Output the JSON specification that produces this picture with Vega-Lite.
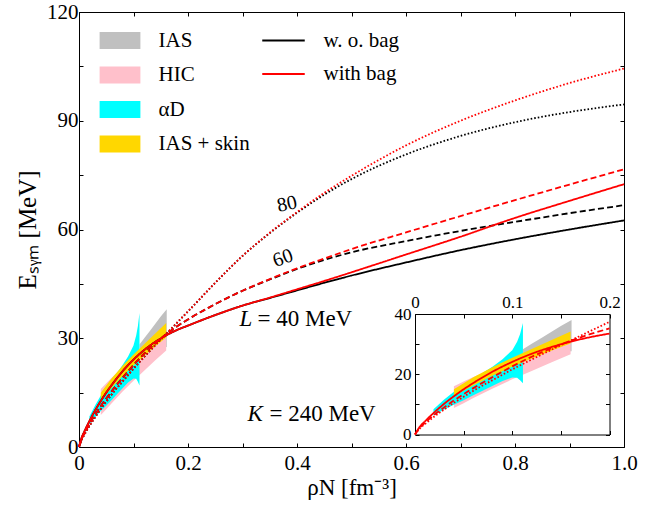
{
  "$schema": "https://vega.github.io/schema/vega-lite/v6.json",
  "width": 545,
  "height": 435,
  "autosize": {"type": "none"},
  "padding": {"left": 79, "top": 12, "right": 30, "bottom": 63},
  "background": "white",
  "config": {
    "view": {"stroke": null},
    "axis": {
      "labelFont": "Liberation Serif", "titleFont": "Liberation Serif",
      "labelColor": "black", "titleColor": "black", "domainColor": "black", "tickColor": "black",
      "domainWidth": 1, "tickWidth": 1, "grid": false, "labelFlush": false, "labelOverlap": false,
      "titleFontWeight": "normal"
    },
    "legend": {"labelFont": "Liberation Serif", "labelColor": "black"}
  },
  "datasets": {
    "lines": [
      {"rho":0,"E":0,"L":"40","bag":"with bag"},{"rho":0.005,"E":2.6,"L":"40","bag":"with bag"},{"rho":0.01,"E":4.3,"L":"40","bag":"with bag"},{"rho":0.02,"E":7.4,"L":"40","bag":"with bag"},{"rho":0.03,"E":10.2,"L":"40","bag":"with bag"},{"rho":0.04,"E":12.7,"L":"40","bag":"with bag"},{"rho":0.05,"E":15.0,"L":"40","bag":"with bag"},{"rho":0.06,"E":17.1,"L":"40","bag":"with bag"},{"rho":0.08,"E":20.9,"L":"40","bag":"with bag"},{"rho":0.1,"E":24.1,"L":"40","bag":"with bag"},{"rho":0.12,"E":26.8,"L":"40","bag":"with bag"},{"rho":0.14,"E":29.0,"L":"40","bag":"with bag"},{"rho":0.16,"E":30.8,"L":"40","bag":"with bag"},{"rho":0.18,"E":32.3,"L":"40","bag":"with bag"},{"rho":0.2,"E":33.5,"L":"40","bag":"with bag"},{"rho":0.25,"E":36.4,"L":"40","bag":"with bag"},{"rho":0.3,"E":39.0,"L":"40","bag":"with bag"},{"rho":0.35,"E":41.2,"L":"40","bag":"with bag"},{"rho":0.4,"E":43.5,"L":"40","bag":"with bag"},{"rho":0.45,"E":45.8,"L":"40","bag":"with bag"},{"rho":0.5,"E":48.2,"L":"40","bag":"with bag"},{"rho":0.6,"E":53.1,"L":"40","bag":"with bag"},{"rho":0.7,"E":58.0,"L":"40","bag":"with bag"},{"rho":0.8,"E":63.2,"L":"40","bag":"with bag"},{"rho":0.9,"E":67.9,"L":"40","bag":"with bag"},{"rho":1.0,"E":72.5,"L":"40","bag":"with bag"},
      {"rho":0,"E":0,"L":"40","bag":"w. o. bag"},{"rho":0.005,"E":2.6,"L":"40","bag":"w. o. bag"},{"rho":0.01,"E":4.3,"L":"40","bag":"w. o. bag"},{"rho":0.02,"E":7.4,"L":"40","bag":"w. o. bag"},{"rho":0.03,"E":10.2,"L":"40","bag":"w. o. bag"},{"rho":0.04,"E":12.7,"L":"40","bag":"w. o. bag"},{"rho":0.05,"E":15.0,"L":"40","bag":"w. o. bag"},{"rho":0.06,"E":17.1,"L":"40","bag":"w. o. bag"},{"rho":0.08,"E":20.9,"L":"40","bag":"w. o. bag"},{"rho":0.1,"E":24.1,"L":"40","bag":"w. o. bag"},{"rho":0.12,"E":26.8,"L":"40","bag":"w. o. bag"},{"rho":0.14,"E":29.0,"L":"40","bag":"w. o. bag"},{"rho":0.16,"E":30.8,"L":"40","bag":"w. o. bag"},{"rho":0.18,"E":32.3,"L":"40","bag":"w. o. bag"},{"rho":0.2,"E":33.5,"L":"40","bag":"w. o. bag"},{"rho":0.25,"E":36.4,"L":"40","bag":"w. o. bag"},{"rho":0.3,"E":39.0,"L":"40","bag":"w. o. bag"},{"rho":0.35,"E":41.1,"L":"40","bag":"w. o. bag"},{"rho":0.4,"E":43.2,"L":"40","bag":"w. o. bag"},{"rho":0.45,"E":45.3,"L":"40","bag":"w. o. bag"},{"rho":0.5,"E":47.3,"L":"40","bag":"w. o. bag"},{"rho":0.6,"E":50.9,"L":"40","bag":"w. o. bag"},{"rho":0.7,"E":54.3,"L":"40","bag":"w. o. bag"},{"rho":0.8,"E":57.3,"L":"40","bag":"w. o. bag"},{"rho":0.9,"E":60.0,"L":"40","bag":"w. o. bag"},{"rho":1.0,"E":62.5,"L":"40","bag":"w. o. bag"},
      {"rho":0,"E":0,"L":"60","bag":"with bag"},{"rho":0.005,"E":2.3,"L":"60","bag":"with bag"},{"rho":0.01,"E":3.8,"L":"60","bag":"with bag"},{"rho":0.02,"E":6.6,"L":"60","bag":"with bag"},{"rho":0.03,"E":9.0,"L":"60","bag":"with bag"},{"rho":0.04,"E":11.3,"L":"60","bag":"with bag"},{"rho":0.05,"E":13.4,"L":"60","bag":"with bag"},{"rho":0.06,"E":15.4,"L":"60","bag":"with bag"},{"rho":0.08,"E":19.1,"L":"60","bag":"with bag"},{"rho":0.1,"E":22.6,"L":"60","bag":"with bag"},{"rho":0.12,"E":25.8,"L":"60","bag":"with bag"},{"rho":0.14,"E":28.6,"L":"60","bag":"with bag"},{"rho":0.16,"E":31.1,"L":"60","bag":"with bag"},{"rho":0.18,"E":33.3,"L":"60","bag":"with bag"},{"rho":0.2,"E":35.2,"L":"60","bag":"with bag"},{"rho":0.25,"E":39.4,"L":"60","bag":"with bag"},{"rho":0.3,"E":43.1,"L":"60","bag":"with bag"},{"rho":0.35,"E":46.3,"L":"60","bag":"with bag"},{"rho":0.4,"E":49.3,"L":"60","bag":"with bag"},{"rho":0.45,"E":52.0,"L":"60","bag":"with bag"},{"rho":0.5,"E":54.6,"L":"60","bag":"with bag"},{"rho":0.6,"E":59.2,"L":"60","bag":"with bag"},{"rho":0.7,"E":63.7,"L":"60","bag":"with bag"},{"rho":0.8,"E":68.1,"L":"60","bag":"with bag"},{"rho":0.9,"E":72.4,"L":"60","bag":"with bag"},{"rho":1.0,"E":76.6,"L":"60","bag":"with bag"},
      {"rho":0,"E":0,"L":"60","bag":"w. o. bag"},{"rho":0.005,"E":2.3,"L":"60","bag":"w. o. bag"},{"rho":0.01,"E":3.8,"L":"60","bag":"w. o. bag"},{"rho":0.02,"E":6.6,"L":"60","bag":"w. o. bag"},{"rho":0.03,"E":9.0,"L":"60","bag":"w. o. bag"},{"rho":0.04,"E":11.3,"L":"60","bag":"w. o. bag"},{"rho":0.05,"E":13.4,"L":"60","bag":"w. o. bag"},{"rho":0.06,"E":15.4,"L":"60","bag":"w. o. bag"},{"rho":0.08,"E":19.1,"L":"60","bag":"w. o. bag"},{"rho":0.1,"E":22.6,"L":"60","bag":"w. o. bag"},{"rho":0.12,"E":25.8,"L":"60","bag":"w. o. bag"},{"rho":0.14,"E":28.6,"L":"60","bag":"w. o. bag"},{"rho":0.16,"E":31.1,"L":"60","bag":"w. o. bag"},{"rho":0.18,"E":33.3,"L":"60","bag":"w. o. bag"},{"rho":0.2,"E":35.2,"L":"60","bag":"w. o. bag"},{"rho":0.25,"E":39.4,"L":"60","bag":"w. o. bag"},{"rho":0.3,"E":43.1,"L":"60","bag":"w. o. bag"},{"rho":0.35,"E":46.2,"L":"60","bag":"w. o. bag"},{"rho":0.4,"E":49.1,"L":"60","bag":"w. o. bag"},{"rho":0.45,"E":51.6,"L":"60","bag":"w. o. bag"},{"rho":0.5,"E":53.7,"L":"60","bag":"w. o. bag"},{"rho":0.6,"E":56.8,"L":"60","bag":"w. o. bag"},{"rho":0.7,"E":59.6,"L":"60","bag":"w. o. bag"},{"rho":0.8,"E":62.1,"L":"60","bag":"w. o. bag"},{"rho":0.9,"E":64.5,"L":"60","bag":"w. o. bag"},{"rho":1.0,"E":66.7,"L":"60","bag":"w. o. bag"},
      {"rho":0,"E":0,"L":"80","bag":"with bag"},{"rho":0.005,"E":2.0,"L":"80","bag":"with bag"},{"rho":0.01,"E":3.4,"L":"80","bag":"with bag"},{"rho":0.02,"E":6.0,"L":"80","bag":"with bag"},{"rho":0.03,"E":8.3,"L":"80","bag":"with bag"},{"rho":0.04,"E":10.5,"L":"80","bag":"with bag"},{"rho":0.05,"E":12.5,"L":"80","bag":"with bag"},{"rho":0.06,"E":14.5,"L":"80","bag":"with bag"},{"rho":0.08,"E":18.1,"L":"80","bag":"with bag"},{"rho":0.1,"E":21.6,"L":"80","bag":"with bag"},{"rho":0.12,"E":24.9,"L":"80","bag":"with bag"},{"rho":0.14,"E":28.1,"L":"80","bag":"with bag"},{"rho":0.16,"E":31.2,"L":"80","bag":"with bag"},{"rho":0.18,"E":34.3,"L":"80","bag":"with bag"},{"rho":0.2,"E":37.4,"L":"80","bag":"with bag"},{"rho":0.25,"E":45.3,"L":"80","bag":"with bag"},{"rho":0.3,"E":52.7,"L":"80","bag":"with bag"},{"rho":0.35,"E":59.1,"L":"80","bag":"with bag"},{"rho":0.4,"E":64.8,"L":"80","bag":"with bag"},{"rho":0.45,"E":70.1,"L":"80","bag":"with bag"},{"rho":0.5,"E":74.8,"L":"80","bag":"with bag"},{"rho":0.6,"E":83.2,"L":"80","bag":"with bag"},{"rho":0.7,"E":90.0,"L":"80","bag":"with bag"},{"rho":0.8,"E":95.6,"L":"80","bag":"with bag"},{"rho":0.9,"E":100.4,"L":"80","bag":"with bag"},{"rho":1.0,"E":104.4,"L":"80","bag":"with bag"},
      {"rho":0,"E":0,"L":"80","bag":"w. o. bag"},{"rho":0.005,"E":2.0,"L":"80","bag":"w. o. bag"},{"rho":0.01,"E":3.4,"L":"80","bag":"w. o. bag"},{"rho":0.02,"E":6.0,"L":"80","bag":"w. o. bag"},{"rho":0.03,"E":8.3,"L":"80","bag":"w. o. bag"},{"rho":0.04,"E":10.5,"L":"80","bag":"w. o. bag"},{"rho":0.05,"E":12.5,"L":"80","bag":"w. o. bag"},{"rho":0.06,"E":14.5,"L":"80","bag":"w. o. bag"},{"rho":0.08,"E":18.1,"L":"80","bag":"w. o. bag"},{"rho":0.1,"E":21.6,"L":"80","bag":"w. o. bag"},{"rho":0.12,"E":24.9,"L":"80","bag":"w. o. bag"},{"rho":0.14,"E":28.1,"L":"80","bag":"w. o. bag"},{"rho":0.16,"E":31.2,"L":"80","bag":"w. o. bag"},{"rho":0.18,"E":34.3,"L":"80","bag":"w. o. bag"},{"rho":0.2,"E":37.4,"L":"80","bag":"w. o. bag"},{"rho":0.25,"E":45.3,"L":"80","bag":"w. o. bag"},{"rho":0.3,"E":52.7,"L":"80","bag":"w. o. bag"},{"rho":0.35,"E":59.0,"L":"80","bag":"w. o. bag"},{"rho":0.4,"E":64.6,"L":"80","bag":"w. o. bag"},{"rho":0.45,"E":69.6,"L":"80","bag":"w. o. bag"},{"rho":0.5,"E":73.9,"L":"80","bag":"w. o. bag"},{"rho":0.6,"E":80.7,"L":"80","bag":"w. o. bag"},{"rho":0.7,"E":85.8,"L":"80","bag":"w. o. bag"},{"rho":0.8,"E":89.6,"L":"80","bag":"w. o. bag"},{"rho":0.9,"E":92.4,"L":"80","bag":"w. o. bag"},{"rho":1.0,"E":94.5,"L":"80","bag":"w. o. bag"}
    ],
    "bands": [
      {"band":"IAS","rho":0.111,"lo":26.3,"hi":28.3},{"band":"IAS","rho":0.12,"lo":26.6,"hi":30.1},{"band":"IAS","rho":0.13,"lo":26.9,"hi":32.0},{"band":"IAS","rho":0.14,"lo":27.2,"hi":34.0},{"band":"IAS","rho":0.15,"lo":27.4,"hi":36.0},{"band":"IAS","rho":0.161,"lo":27.6,"hi":38.0},
      {"band":"HIC","rho":0.04,"lo":8.8,"hi":16.0},{"band":"HIC","rho":0.05,"lo":10.4,"hi":17.6},{"band":"HIC","rho":0.06,"lo":12.1,"hi":19.1},{"band":"HIC","rho":0.08,"lo":15.3,"hi":21.7},{"band":"HIC","rho":0.1,"lo":18.3,"hi":24.1},{"band":"HIC","rho":0.12,"lo":21.1,"hi":26.6},{"band":"HIC","rho":0.14,"lo":23.9,"hi":29.0},{"band":"HIC","rho":0.16,"lo":26.6,"hi":31.3},
      {"band":"αD","rho":0.019,"lo":6.3,"hi":8.4},{"band":"αD","rho":0.03,"lo":8.3,"hi":11.6},{"band":"αD","rho":0.04,"lo":9.9,"hi":14.2},{"band":"αD","rho":0.05,"lo":11.4,"hi":16.4},{"band":"αD","rho":0.06,"lo":13.0,"hi":18.5},{"band":"αD","rho":0.07,"lo":14.6,"hi":20.5},{"band":"αD","rho":0.08,"lo":16.2,"hi":22.6},{"band":"αD","rho":0.09,"lo":17.8,"hi":25.0},{"band":"αD","rho":0.1,"lo":18.9,"hi":28.0},{"band":"αD","rho":0.105,"lo":18.8,"hi":30.8},{"band":"αD","rho":0.108,"lo":18.0,"hi":33.3},{"band":"αD","rho":0.111,"lo":17.0,"hi":37.0},
      {"band":"IAS + skin","rho":0.04,"lo":12.8,"hi":15.0},{"band":"IAS + skin","rho":0.06,"lo":16.3,"hi":19.0},{"band":"IAS + skin","rho":0.08,"lo":19.6,"hi":22.4},{"band":"IAS + skin","rho":0.1,"lo":22.5,"hi":25.5},{"band":"IAS + skin","rho":0.12,"lo":25.2,"hi":28.4},{"band":"IAS + skin","rho":0.14,"lo":27.8,"hi":31.3},{"band":"IAS + skin","rho":0.16,"lo":30.2,"hi":34.2}
    ],
    "notes": [
      {"rho":0.3817,"E":67.0,"text":"80","kind":"s80"},
      {"rho":0.374,"E":52.1,"text":"60","kind":"s60"},
      {"rho":0.2945,"E":35.2,"text":"L","kind":"it"},
      {"rho":0.3275,"E":35.2,"text":"= 40 MeV","kind":"rm"},
      {"rho":0.309,"E":9.0,"text":"K","kind":"it"},
      {"rho":0.3495,"E":9.0,"text":"= 240 MeV","kind":"rm"}
    ]
  },
  "resolve": {"scale": {"x": "independent", "y": "independent"}, "axis": {"x": "independent", "y": "independent"}},
  "layer": [
    {
      "layer": [
        {
          "data": {"name": "bands"},
          "transform": [{"filter": "datum.band == 'IAS'"}],
          "mark": {"type": "area"},
          "encoding": {
            "x": {"field": "rho", "type": "quantitative", "scale": {"domain": [0, 1], "nice": false, "zero": false},
              "axis": {"orient": "bottom", "values": [0,0.1,0.2,0.3,0.4,0.5,0.6,0.7,0.8,0.9,1.0], "tickSize": -4, "labelPadding": 9,
                "labelExpr": "round(datum.value*10) % 2 == 0 ? (datum.value == 0 ? '0' : format(datum.value, '.1f')) : ''",
                "labelFontSize": 21, "title": "ρN [fm⁻³]", "titleFontSize": 23, "titlePadding": 3}},
            "y": {"field": "hi", "type": "quantitative", "scale": {"domain": [0, 120], "nice": false, "zero": false},
              "axis": {"orient": "left", "values": [0,15,30,45,60,75,90,105,120], "tickSize": -4, "labelPadding": 5,
                "labelExpr": "datum.value % 30 == 0 ? datum.label : ''",
                "labelFontSize": 21, "title": "Eₛᵧₘ [MeV]", "titleFontSize": 25, "titlePadding": 6}},
            "y2": {"field": "lo"},
            "fill": {"field": "band", "type": "nominal",
              "scale": {"domain": ["IAS", "HIC", "αD", "IAS + skin"], "range": ["#c0c0c0", "#ffc0cb", "#00ffff", "#ffd700"]},
              "legend": {"orient": "none", "legendX": 30.5, "legendY": 18, "title": null, "padding": 0,
                "symbolType": "M-2.4,-1L2.4,-1L2.4,1L-2.4,1Z", "symbolSize": 289, "symbolStrokeWidth": 0, "symbolOpacity": 1,
                "labelFontSize": 21, "labelOffset": 28, "rowPadding": 12.5}}
          }
        },
        {
          "data": {"name": "bands"},
          "transform": [{"filter": "datum.band == 'HIC'"}],
          "mark": {"type": "area"},
          "encoding": {
            "x": {"field": "rho", "type": "quantitative", "scale": {"domain": [0, 1], "nice": false, "zero": false}},
            "y": {"field": "hi", "type": "quantitative", "scale": {"domain": [0, 120], "nice": false, "zero": false}},
            "y2": {"field": "lo"},
            "fill": {"field": "band", "type": "nominal"}
          }
        },
        {
          "data": {"name": "bands"},
          "transform": [{"filter": "datum.band == 'αD'"}],
          "mark": {"type": "area"},
          "encoding": {
            "x": {"field": "rho", "type": "quantitative", "scale": {"domain": [0, 1], "nice": false, "zero": false}},
            "y": {"field": "hi", "type": "quantitative", "scale": {"domain": [0, 120], "nice": false, "zero": false}},
            "y2": {"field": "lo"},
            "fill": {"field": "band", "type": "nominal"}
          }
        },
        {
          "data": {"name": "bands"},
          "transform": [{"filter": "datum.band == 'IAS + skin'"}],
          "mark": {"type": "area"},
          "encoding": {
            "x": {"field": "rho", "type": "quantitative", "scale": {"domain": [0, 1], "nice": false, "zero": false}},
            "y": {"field": "hi", "type": "quantitative", "scale": {"domain": [0, 120], "nice": false, "zero": false}},
            "y2": {"field": "lo"},
            "fill": {"field": "band", "type": "nominal"}
          }
        },
        {
          "data": {"name": "lines"},
          "transform": [{"filter": "datum.bag == 'w. o. bag'"}],
          "mark": {"type": "line", "strokeWidth": 1.8, "interpolate": "monotone"},
          "encoding": {
            "x": {"field": "rho", "type": "quantitative", "scale": {"domain": [0, 1], "nice": false, "zero": false}},
            "y": {"field": "E", "type": "quantitative", "scale": {"domain": [0, 120], "nice": false, "zero": false}},
            "stroke": {"field": "bag", "type": "nominal",
              "scale": {"domain": ["w. o. bag", "with bag"], "range": ["black", "#ff0000"]},
              "legend": {"orient": "none", "legendX": 194, "legendY": 18, "title": null, "padding": 0,
                "symbolType": "M-2.5,0L2.5,0", "symbolSize": 289, "symbolStrokeWidth": 1.8,
                "labelFontSize": 21, "labelOffset": 29.5, "rowPadding": 11.5}},
            "strokeDash": {"field": "L", "type": "nominal",
              "scale": {"domain": ["40", "60", "80"], "range": [[1, 0], [6, 3.2], [1.6, 2]]}, "legend": null},
            "detail": {"field": "L"}
          }
        },
        {
          "data": {"name": "lines"},
          "transform": [{"filter": "datum.bag == 'with bag'"}],
          "mark": {"type": "line", "strokeWidth": 1.8, "interpolate": "monotone"},
          "encoding": {
            "x": {"field": "rho", "type": "quantitative", "scale": {"domain": [0, 1], "nice": false, "zero": false}},
            "y": {"field": "E", "type": "quantitative", "scale": {"domain": [0, 120], "nice": false, "zero": false}},
            "stroke": {"field": "bag", "type": "nominal"},
            "strokeDash": {"field": "L", "type": "nominal", "legend": null},
            "detail": {"field": "L"}
          }
        },
        {
          "data": {"name": "notes"},
          "transform": [{"filter": "datum.kind == 's80'"}],
          "mark": {"type": "text", "font": "Liberation Serif", "fontSize": 20, "angle": -12, "align": "center", "baseline": "middle", "color": "black"},
          "encoding": {
            "x": {"field": "rho", "type": "quantitative", "scale": {"domain": [0, 1], "nice": false, "zero": false}},
            "y": {"field": "E", "type": "quantitative", "scale": {"domain": [0, 120], "nice": false, "zero": false}},
            "text": {"field": "text"}
          }
        },
        {
          "data": {"name": "notes"},
          "transform": [{"filter": "datum.kind == 's60'"}],
          "mark": {"type": "text", "font": "Liberation Serif", "fontSize": 20, "angle": -20, "align": "center", "baseline": "middle", "color": "black"},
          "encoding": {
            "x": {"field": "rho", "type": "quantitative", "scale": {"domain": [0, 1], "nice": false, "zero": false}},
            "y": {"field": "E", "type": "quantitative", "scale": {"domain": [0, 120], "nice": false, "zero": false}},
            "text": {"field": "text"}
          }
        },
        {
          "data": {"name": "notes"},
          "transform": [{"filter": "datum.kind == 'it'"}],
          "mark": {"type": "text", "font": "Liberation Serif", "fontSize": 23, "fontStyle": "italic", "align": "left", "baseline": "middle", "color": "black"},
          "encoding": {
            "x": {"field": "rho", "type": "quantitative", "scale": {"domain": [0, 1], "nice": false, "zero": false}},
            "y": {"field": "E", "type": "quantitative", "scale": {"domain": [0, 120], "nice": false, "zero": false}},
            "text": {"field": "text"}
          }
        },
        {
          "data": {"name": "notes"},
          "transform": [{"filter": "datum.kind == 'rm'"}],
          "mark": {"type": "text", "font": "Liberation Serif", "fontSize": 23, "align": "left", "baseline": "middle", "color": "black"},
          "encoding": {
            "x": {"field": "rho", "type": "quantitative", "scale": {"domain": [0, 1], "nice": false, "zero": false}},
            "y": {"field": "E", "type": "quantitative", "scale": {"domain": [0, 120], "nice": false, "zero": false}},
            "text": {"field": "text"}
          }
        }
      ]
    },
    {
      "data": {"name": "notes"},
      "mark": {"type": "point", "opacity": 0},
      "encoding": {
        "x": {"field": "rho", "type": "quantitative", "scale": {"domain": [0, 1], "nice": false, "zero": false},
          "axis": {"orient": "top", "values": [0,0.1,0.2,0.3,0.4,0.5,0.6,0.7,0.8,0.9,1.0], "tickSize": -4, "labels": false, "title": null}},
        "y": {"field": "E", "type": "quantitative", "scale": {"domain": [0, 120], "nice": false, "zero": false},
          "axis": {"orient": "right", "values": [0,15,30,45,60,75,90,105,120], "tickSize": -4, "labels": false, "title": null}}
      }
    },
    {
      "layer": [
        {
          "data": {"name": "bands"},
          "transform": [{"filter": "datum.band == 'IAS'"}],
          "mark": {"type": "area"},
          "encoding": {
            "x": {"field": "rho", "type": "quantitative", "scale": {"domain": [0, 0.2], "range": [336, 530.5], "nice": false, "zero": false},
              "axis": {"orient": "top", "offset": -302, "values": [0,0.05,0.1,0.15,0.2], "tickSize": -4, "labelPadding": 7,
                "labelExpr": "round(datum.value*20) % 2 == 0 ? (datum.value == 0 ? '0' : format(datum.value, '.1f')) : ''",
                "labelFontSize": 17, "title": null}},
            "y": {"field": "hi", "type": "quantitative", "scale": {"domain": [0, 40], "range": [422.5, 302], "nice": false, "zero": false},
              "axis": {"orient": "left", "offset": -336, "values": [0,10,20,30,40], "tickSize": -4, "labelPadding": 8,
                "labelExpr": "datum.value % 20 == 0 ? datum.label : ''",
                "labelFontSize": 17, "title": null}},
            "y2": {"field": "lo"},
            "fill": {"field": "band", "type": "nominal"}
          }
        },
        {
          "data": {"name": "bands"},
          "transform": [{"filter": "datum.band == 'HIC'"}],
          "mark": {"type": "area"},
          "encoding": {
            "x": {"field": "rho", "type": "quantitative", "scale": {"domain": [0, 0.2], "range": [336, 530.5], "nice": false, "zero": false}},
            "y": {"field": "hi", "type": "quantitative", "scale": {"domain": [0, 40], "range": [422.5, 302], "nice": false, "zero": false}},
            "y2": {"field": "lo"},
            "fill": {"field": "band", "type": "nominal"}
          }
        },
        {
          "data": {"name": "bands"},
          "transform": [{"filter": "datum.band == 'αD'"}],
          "mark": {"type": "area"},
          "encoding": {
            "x": {"field": "rho", "type": "quantitative", "scale": {"domain": [0, 0.2], "range": [336, 530.5], "nice": false, "zero": false}},
            "y": {"field": "hi", "type": "quantitative", "scale": {"domain": [0, 40], "range": [422.5, 302], "nice": false, "zero": false}},
            "y2": {"field": "lo"},
            "fill": {"field": "band", "type": "nominal"}
          }
        },
        {
          "data": {"name": "bands"},
          "transform": [{"filter": "datum.band == 'IAS + skin'"}],
          "mark": {"type": "area"},
          "encoding": {
            "x": {"field": "rho", "type": "quantitative", "scale": {"domain": [0, 0.2], "range": [336, 530.5], "nice": false, "zero": false}},
            "y": {"field": "hi", "type": "quantitative", "scale": {"domain": [0, 40], "range": [422.5, 302], "nice": false, "zero": false}},
            "y2": {"field": "lo"},
            "fill": {"field": "band", "type": "nominal"}
          }
        },
        {
          "data": {"name": "lines"},
          "transform": [{"filter": "datum.bag == 'with bag' && datum.rho <= 0.2001"}],
          "mark": {"type": "line", "strokeWidth": 1.8, "interpolate": "monotone"},
          "encoding": {
            "x": {"field": "rho", "type": "quantitative", "scale": {"domain": [0, 0.2], "range": [336, 530.5], "nice": false, "zero": false}},
            "y": {"field": "E", "type": "quantitative", "scale": {"domain": [0, 40], "range": [422.5, 302], "nice": false, "zero": false}},
            "stroke": {"field": "bag", "type": "nominal"},
            "strokeDash": {"field": "L", "type": "nominal", "legend": null},
            "detail": {"field": "L"}
          }
        }
      ]
    },
    {
      "data": {"name": "notes"},
      "mark": {"type": "point", "opacity": 0},
      "encoding": {
        "x": {"field": "rho", "type": "quantitative", "scale": {"domain": [0, 0.2], "range": [336, 530.5], "nice": false, "zero": false},
          "axis": {"orient": "bottom", "offset": -12.5, "values": [0,0.05,0.1,0.15,0.2], "tickSize": -4, "labels": false, "title": null}},
        "y": {"field": "E", "type": "quantitative", "scale": {"domain": [0, 40], "range": [422.5, 302], "nice": false, "zero": false},
          "axis": {"orient": "right", "offset": -14.5, "values": [0,10,20,30,40], "tickSize": -4, "labels": false, "title": null}}
      }
    }
  ]
}
